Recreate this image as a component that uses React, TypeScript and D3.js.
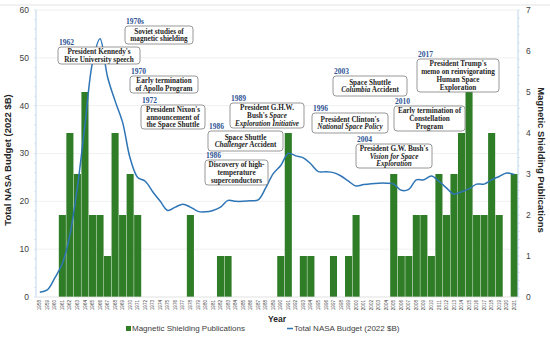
import * as d3 from "d3";

const years = d3.range(1958, 2022);

// magnetic shielding publications per year (right axis)
const pubs = [
  0, 0, 0, 2, 4, 3, 5, 2, 2, 1, 4, 2, 3, 2,
  0, 0, 0, 0, 0, 0, 2, 0, 0, 0, 1, 1, 0, 0, 0, 0, 0, 0,
  1, 4, 0, 1, 1, 0, 0, 1, 0, 1, 2, 0, 0, 0, 0,
  3, 1, 1, 2, 2, 1, 3, 2, 3, 4, 5, 2, 2, 4, 2, 0, 3,
];

// total NASA budget, 2022 $B (left axis)
const budget = [
  1.0, 1.5, 4.0, 7.0, 13.0, 23.0, 36.0, 49.0, 54.0, 46.0, 41.0, 36.5, 29.0, 25.0,
  24.2, 22.0, 20.0, 18.1, 18.8, 19.4, 18.8, 17.9, 17.8, 18.1, 18.8, 20.2, 20.0, 20.0,
  20.1, 20.3, 22.8, 25.8, 27.5, 30.0, 29.5, 29.1, 27.8, 26.2, 26.2, 26.0, 25.3, 24.2,
  23.2, 23.5, 23.7, 23.8, 23.8, 23.6, 22.3, 22.5, 24.5, 24.5, 25.3, 24.2, 22.8, 21.5,
  22.0, 22.6, 23.6, 23.6, 24.5, 25.2, 25.9, 25.6,
];

const leftTicks = [0, 10, 20, 30, 40, 50, 60];
const rightTicks = [0, 1, 2, 3, 4, 5, 6, 7];

// event annotations; *text* = italic
const noteYears = ["1970s", "1962", "1970", "1972", "1986", "1986", "1989", "1996", "2003", "2004", "2010", "2017"];
const noteLines = [
  ["Soviet studies of", "magnetic shielding"],
  ["President Kennedy's", "Rice University speech"],
  ["Early termination", "of Apollo Program"],
  ["President Nixon's", "announcement of", "the Space Shuttle"],
  ["Space Shuttle", "*Challenger* Accident"],
  ["Discovery of high-", "temperature", "superconductors"],
  ["President G.H.W.", "Bush's *Space*", "*Exploration Initiative*"],
  ["President Clinton's", "*National Space Policy*"],
  ["Space Shuttle", "*Columbia* Accident"],
  ["President G.W. Bush's", "*Vision for Space*", "*Exploration*"],
  ["Early termination of", "Constellation", "Program"],
  ["President Trump's", "memo on reinvigorating", "Human Space", "Exploration"],
];
// label box layout [x, y, w, h]
const noteBoxes = [
  [125, 26, 68, 18], [58, 47, 82, 17], [130, 76, 68, 17], [141, 105, 64, 24],
  [208, 131, 75, 20], [205, 160, 63, 25], [230, 103, 74, 25], [312, 113, 76, 20],
  [333, 76, 74, 20], [356, 144, 76, 24], [394, 106, 71, 25], [417, 59, 82, 33],
];

const W = 550, H = 340;
const mL = 36, mR = 518, top = 10, bottom = 297;
const green = "#2f7d27";
const blue = "#2e75b6";
const axisBlue = "#bdd7ee";
const sans = "'Liberation Sans', Arial, sans-serif";
const serif = "'Liberation Serif', 'Times New Roman', serif";

function Segs({ line }: { line: string }) {
  const parts = line.split("*");
  return (
    <>
      {parts.map((p, i) =>
        p ? <tspan key={i} fontStyle={i % 2 ? "italic" : "normal"}>{p}</tspan> : null
      )}
    </>
  );
}

export default function App() {
  const x = d3.scaleBand<number>().domain(years).range([mL, mR]).paddingInner(0.06).paddingOuter(0.03);
  const yL = d3.scaleLinear().domain([0, 60]).range([bottom, top]);
  const yR = d3.scaleLinear().domain([0, 7]).range([bottom, top]);
  const cx = (yr: number) => (x(yr) as number) + x.bandwidth() / 2;

  const line = d3
    .line<number>()
    .x((_, i) => cx(years[i]))
    .y((d) => yL(d))
    .curve(d3.curveCatmullRom.alpha(0.5));

  const minorL = d3.range(0, 61, 2);
  const minorR = d3.range(0, 7.01, 0.2);

  return (
    <svg width={W} height={H} style={{ position: "absolute", left: 0, top: 0, background: "#fff" }}>
      <line x1={0} x2={W} y1={5} y2={5} stroke="#e3e3e3" strokeWidth={1} />
      {/* grid */}
      {leftTicks.slice(1).map((t) => (
        <line key={t} x1={mL} x2={mR} y1={yL(t)} y2={yL(t)} stroke="#ececec" strokeWidth={0.8} />
      ))}
      {/* bars */}
      {pubs.map((p, i) =>
        p > 0 ? (
          <rect
            key={years[i]}
            x={x(years[i])}
            y={yR(p)}
            width={x.bandwidth()}
            height={yR(0) - yR(p)}
            fill={green}
          />
        ) : null
      )}
      {/* axes */}
      <line x1={mL} x2={mL} y1={top} y2={bottom} stroke={axisBlue} strokeWidth={1} />
      {minorL.map((t) => (
        <line key={t} x1={mL - 2} x2={mL} y1={yL(t)} y2={yL(t)} stroke={axisBlue} strokeWidth={0.6} />
      ))}
      <line x1={mR} x2={mR} y1={top} y2={bottom} stroke={axisBlue} strokeWidth={1} />
      {minorR.map((t, i) => (
        <line key={i} x1={mR} x2={mR + 2} y1={yR(t)} y2={yR(t)} stroke={axisBlue} strokeWidth={0.6} />
      ))}
      <line x1={mL} x2={mR} y1={bottom} y2={bottom} stroke="#d9d9d9" strokeWidth={0.8} />
      {leftTicks.map((t) => (
        <text key={t} x={29} y={yL(t)} dy="0.35em" textAnchor="end" fontSize={8.5} fontFamily={sans} fill="#404040">
          {t}
        </text>
      ))}
      {rightTicks.map((t) => (
        <text key={t} x={526} y={yR(t)} dy="0.35em" fontSize={8.5} fontFamily={sans} fill="#404040">
          {t}
        </text>
      ))}
      {years.map((yr) => (
        <text
          key={yr}
          transform={`translate(${cx(yr) + 1.6},${bottom + 3}) rotate(-90)`}
          textAnchor="end"
          fontSize={4.6}
          fontFamily={sans}
          fill="#404040"
        >
          {yr}
        </text>
      ))}
      {/* budget line */}
      <path d={line(budget) ?? ""} fill="none" stroke={blue} strokeWidth={1.5} />
      {/* axis titles */}
      <text transform="translate(11,160) rotate(-90)" textAnchor="middle" fontSize={9.5} fontWeight="bold" fontFamily={sans} fill="#262626">
        Total NASA Budget (2022 $B)
      </text>
      <text transform="translate(538,160) rotate(90)" textAnchor="middle" fontSize={9.5} fontWeight="bold" fontFamily={sans} fill="#262626">
        Magnetic Shielding Publications
      </text>
      <text x={277} y={322} textAnchor="middle" fontSize={8.5} fontWeight="bold" fontFamily={sans} fill="#262626">
        Year
      </text>
      {/* legend */}
      <rect x={126} y={326} width={5} height={5} fill={green} />
      <text x={132} y={331} fontSize={8} fontFamily={sans} fill="#404040">
        Magnetic Shielding Publications
      </text>
      <line x1={287} x2={293} y1={328.5} y2={328.5} stroke={blue} strokeWidth={1.5} />
      <text x={294} y={331} fontSize={8} fontFamily={sans} fill="#404040">
        Total NASA Budget (2022 $B)
      </text>
      {/* annotations */}
      {noteBoxes.map(([bx, by, bw, bh], i) => {
        const lines = noteLines[i];
        const lh = 7.9;
        const y0 = by + bh / 2 - ((lines.length - 1) * lh) / 2;
        return (
          <g key={i}>
            <text x={bx + 1} y={by - 2.5} fontSize={7.5} fontWeight="bold" fontFamily={serif} fill="#2f5496">
              {noteYears[i]}
            </text>
            <rect x={bx} y={by} width={bw} height={bh} rx={3} fill="#fff" stroke="#7f7f7f" strokeWidth={0.8} />
            {lines.map((l, j) => (
              <text
                key={j}
                x={bx + bw / 2}
                y={y0 + j * lh}
                dy="0.35em"
                textAnchor="middle"
                fontSize={7.2}
                fontWeight="bold"
                fontFamily={serif}
                fill="#262626"
              >
                <Segs line={l} />
              </text>
            ))}
          </g>
        );
      })}
    </svg>
  );
}
